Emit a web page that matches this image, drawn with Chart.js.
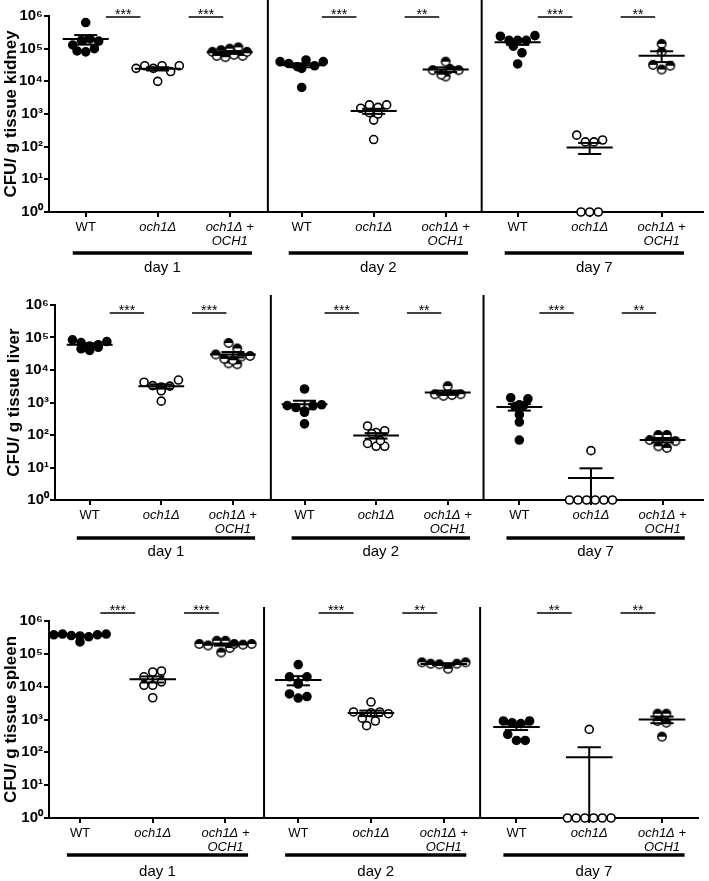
<!DOCTYPE html>
<html>
<head>
<meta charset="utf-8">
<script src="https://cdn.jsdelivr.net/npm/chart.js@4.4.0/dist/chart.umd.min.js"></script>
<style>
  body { margin: 0; background: #fff; }
  #wrap { position: relative; width: 709px; height: 881px; }
  canvas { position: absolute; left: 0; }
</style>
</head>
<body>
<div id="wrap">
  <canvas id="kidneyChart" width="709" height="285" style="top:0px"></canvas>
  <canvas id="liverChart" width="709" height="290" style="top:285px"></canvas>
  <canvas id="spleenChart" width="709" height="306" style="top:575px"></canvas>
</div>
<script>
// groups along the x axis: WT, och1Δ, och1Δ + OCH1 for each day
const groupLabels = ['WT', 'och1Δ', ['och1Δ +', 'OCH1']];
const dayLabels = ['day 1', 'day 2', 'day 7'];
const groupPositions = [0, 1, 2, 3, 4, 5, 6, 7, 8];
const yTickValues = [1, 10, 100, 1000, 10000, 100000, 1000000];
const supDigits = ['⁰', '¹', '²', '³', '⁴', '⁵', '⁶'];

// CFU per g tissue, one list per group (0 = nothing recovered, drawn on the axis)
const kidneyValues = [
  [630000, 130000, 85000, 80000, 100000, 180000, 200000, 170000],
  [25000, 30000, 25000, 10000, 30000, 20000, 30000],
  [80000, 60000, 90000, 55000, 100000, 65000, 110000, 60000, 80000],
  [40000, 35000, 28000, 45000, 6500, 25000, 30000, 40000],
  [1500, 1900, 1100, 1600, 650, 1900, 1000, 165],
  [22000, 14000, 40000, 16000, 24000, 22000],
  [240000, 120000, 180000, 75000, 34000, 180000, 180000, 250000],
  [225, 0, 140, 0, 140, 0, 160],
  [32000, 140000, 23000, 80000, 30000]
];
const liverValues = [
  [85000, 70000, 55000, 45000, 40000, 50000, 60000, 75000],
  [4200, 3300, 3000, 3200, 2300, 4900, 1100],
  [30000, 68000, 16000, 22000, 15000, 46000, 20000, 26000, 27000],
  [800, 700, 500, 2600, 550, 800, 850, 220],
  [190, 55, 120, 45, 110, 45, 67, 135],
  [3200, 1800, 1600, 1700, 1800],
  [1400, 850, 750, 800, 1300, 420, 250, 70],
  [0, 0, 0, 33, 0, 0, 0],
  [70, 100, 100, 45, 40, 65]
];
const spleenValues = [
  [380000, 400000, 360000, 350000, 230000, 330000, 380000, 400000],
  [20000, 28000, 11000, 4600, 11000, 30000, 14000],
  [200000, 180000, 250000, 110000, 250000, 150000, 200000, 190000, 200000],
  [20000, 6000, 12000, 4500, 47000, 13000, 5000, 20000],
  [1700, 1100, 1600, 650, 1700, 900, 3400, 1500],
  [55000, 50000, 48000, 35000, 50000, 55000],
  [900, 350, 800, 230, 750, 230, 900],
  [0, 0, 0, 500, 0, 0, 0],
  [1500, 900, 300, 800, 1500]
];

// significance marks: WT vs och1Δ, och1Δ vs complemented, per day
const kidneyStars = ['***', '***', '***', '**', '***', '**'];
const liverStars = ['***', '***', '***', '**', '***', '**'];
const spleenStars = ['***', '***', '***', '**', '**', '**'];

Chart.defaults.font.family = "'Liberation Sans', Arial, sans-serif";
Chart.defaults.color = '#000';

// half filled marker for the complemented strain
function halfCircle() {
  const c = document.createElement('canvas');
  c.width = 12; c.height = 12;
  const g = c.getContext('2d');
  g.beginPath(); g.arc(6, 6, 4.2, 0, Math.PI * 2); g.fillStyle = '#fff'; g.fill();
  g.beginPath(); g.arc(6, 6, 4.2, Math.PI, 0); g.closePath(); g.fillStyle = '#000'; g.fill();
  g.beginPath(); g.arc(6, 6, 4.2, 0, Math.PI * 2); g.lineWidth = 1.5; g.strokeStyle = '#000'; g.stroke();
  return c;
}
const halfImg = halfCircle();

// put points of similar value side by side, like a scatter dot plot
function spreadX(vals) {
  const lg = vals.map(v => Math.log10(Math.max(v, 1)));
  const order = vals.map((v, i) => i).sort((a, b) => lg[b] - lg[a]);
  const off = new Array(vals.length).fill(0);
  let row = [];
  const flush = () => {
    const r = row.slice().sort((a, b) => a - b);
    r.forEach((idx, j) => { off[idx] = (j - (r.length - 1) / 2) * 0.12; });
    row = [];
  };
  order.forEach(i => {
    if (row.length && lg[row[0]] - lg[i] > 0.22) flush();
    row.push(i);
  });
  flush();
  return off;
}

const decorPlugin = {
  id: 'decor',
  afterDatasetsDraw(chart, args, opts) {
    const { ctx, chartArea, scales: { x, y } } = chart;
    const px = v => x.getPixelForValue(v);
    const py = v => y.getPixelForValue(Math.max(v, 1));
    const seg = (x1, y1, x2, y2) => { ctx.beginPath(); ctx.moveTo(x1, y1); ctx.lineTo(x2, y2); ctx.stroke(); };
    ctx.save();
    ctx.strokeStyle = '#000';
    ctx.fillStyle = '#000';
    ctx.lineCap = 'butt';

    // mean with SEM
    ctx.lineWidth = 2;
    opts.values.forEach((vals, g) => {
      const n = vals.length;
      const mean = vals.reduce((a, b) => a + b, 0) / n;
      const sd = Math.sqrt(vals.reduce((a, b) => a + (b - mean) ** 2, 0) / (n - 1));
      const sem = sd / Math.sqrt(n);
      const ym = py(mean), yHi = py(mean + sem), yLo = py(mean - sem);
      seg(px(g - 0.32), ym, px(g + 0.32), ym);
      seg(px(g), yHi, px(g), yLo);
      seg(px(g - 0.16), yHi, px(g + 0.16), yHi);
      if (mean - sem > 1) seg(px(g - 0.16), yLo, px(g + 0.16), yLo);
    });

    // day dividers
    [2.53, 5.5].forEach(d => seg(px(d), opts.dividerTop, px(d), chartArea.bottom));

    // significance bars
    ctx.font = "14px 'Liberation Sans', Arial, sans-serif";
    ctx.textAlign = 'center';
    ctx.textBaseline = 'alphabetic';
    const sy = chartArea.top + opts.sigOffset;
    dayLabels.forEach((d, i) => {
      const g = i * 3;
      [[g + 0.28, g + 0.76], [g + 1.43, g + 1.91]].forEach((b, j) => {
        ctx.lineWidth = 1.5;
        seg(px(b[0]), sy, px(b[1]), sy);
        ctx.fillText(opts.stars[i * 2 + j], (px(b[0]) + px(b[1])) / 2, sy + 2);
      });
    });

    // day underline and label
    ctx.font = "15px 'Liberation Sans', Arial, sans-serif";
    ctx.textBaseline = 'middle';
    dayLabels.forEach((d, i) => {
      const g = i * 3;
      const x1 = px(g - 0.18), x2 = px(g + 2.31);
      ctx.lineWidth = 3.5;
      seg(x1, chartArea.bottom + opts.barOffset, x2, chartArea.bottom + opts.barOffset);
      ctx.fillText(d, (x1 + x2) / 2, chartArea.bottom + opts.textOffset);
    });
    ctx.restore();
  }
};

function makePanel(id, title, values, stars, cfg) {
  const datasets = values.map((vals, g) => {
    const off = spreadX(vals);
    const kind = g % 3;
    return {
      data: vals.map((v, i) => ({ x: groupPositions[g] + off[i], y: Math.max(v, 1) })),
      pointStyle: kind === 2 ? halfImg : 'circle',
      pointRadius: 4,
      pointBorderWidth: 1.6,
      pointBackgroundColor: kind === 0 ? '#000' : '#fff',
      pointBorderColor: '#000',
      showLine: false,
      clip: false
    };
  });

  return new Chart(document.getElementById(id), {
    type: 'scatter',
    data: { datasets },
    plugins: [decorPlugin],
    options: {
      responsive: false,
      animation: false,
      events: [],
      layout: { padding: { top: cfg.top, right: 709 - cfg.right, left: 0, bottom: 0 } },
      plugins: {
        legend: { display: false },
        tooltip: { enabled: false },
        decor: Object.assign({ values, stars }, cfg)
      },
      scales: {
        x: {
          type: 'linear',
          min: cfg.xMin,
          max: cfg.xMax,
          afterBuildTicks: s => { s.ticks = groupPositions.map(v => ({ value: v })); },
          afterFit: s => { s.height = cfg.xHeight; },
          border: { display: true, color: '#000', width: 2 },
          grid: { display: true, drawOnChartArea: false, drawTicks: true, tickLength: 5, color: '#000', lineWidth: 2 },
          ticks: {
            autoSkip: false,
            maxRotation: 0,
            padding: 3,
            color: '#000',
            font: c => ({ size: 13, style: c.index % 3 === 0 ? 'normal' : 'italic', lineHeight: 1.1 }),
            callback: (v, i) => groupLabels[i % 3]
          }
        },
        y: {
          type: 'logarithmic',
          min: 1,
          max: 1000000,
          afterBuildTicks: s => { s.ticks = yTickValues.map(v => ({ value: v })); },
          afterFit: s => { s.width = cfg.left; },
          border: { display: true, color: '#000', width: 2 },
          grid: { display: true, drawOnChartArea: false, drawTicks: true, tickLength: 5, color: '#000', lineWidth: 2 },
          ticks: {
            padding: 1,
            color: '#000',
            font: { size: 15, weight: 'bold' },
            callback: v => '10' + supDigits[Math.round(Math.log10(v))]
          },
          title: {
            display: true,
            text: title,
            color: '#000',
            font: { size: 17, weight: 'bold' },
            padding: { top: cfg.titlePad, bottom: 0 }
          }
        }
      }
    }
  });
}

makePanel('kidneyChart', 'CFU/ g tissue kidney', kidneyValues, kidneyStars,
  { left: 49, right: 708, top: 16, xHeight: 73, xMin: -0.51, xMax: 8.58, dividerTop: 0, sigOffset: 1, barOffset: 41, textOffset: 56, titlePad: 1 });
makePanel('liverChart', 'CFU/ g tissue liver', liverValues, liverStars,
  { left: 55, right: 709, top: 20, xHeight: 75, xMin: -0.484, xMax: 8.57, dividerTop: 10, sigOffset: 8, barOffset: 38, textOffset: 52, titlePad: 4 });
makePanel('spleenChart', 'CFU/ g tissue spleen', spleenValues, spleenStars,
  { left: 49, right: 698, top: 46, xHeight: 63, xMin: -0.426, xMax: 8.495, dividerTop: 32, sigOffset: -8, barOffset: 37, textOffset: 54, titlePad: 1 });
</script>
</body>
</html>
